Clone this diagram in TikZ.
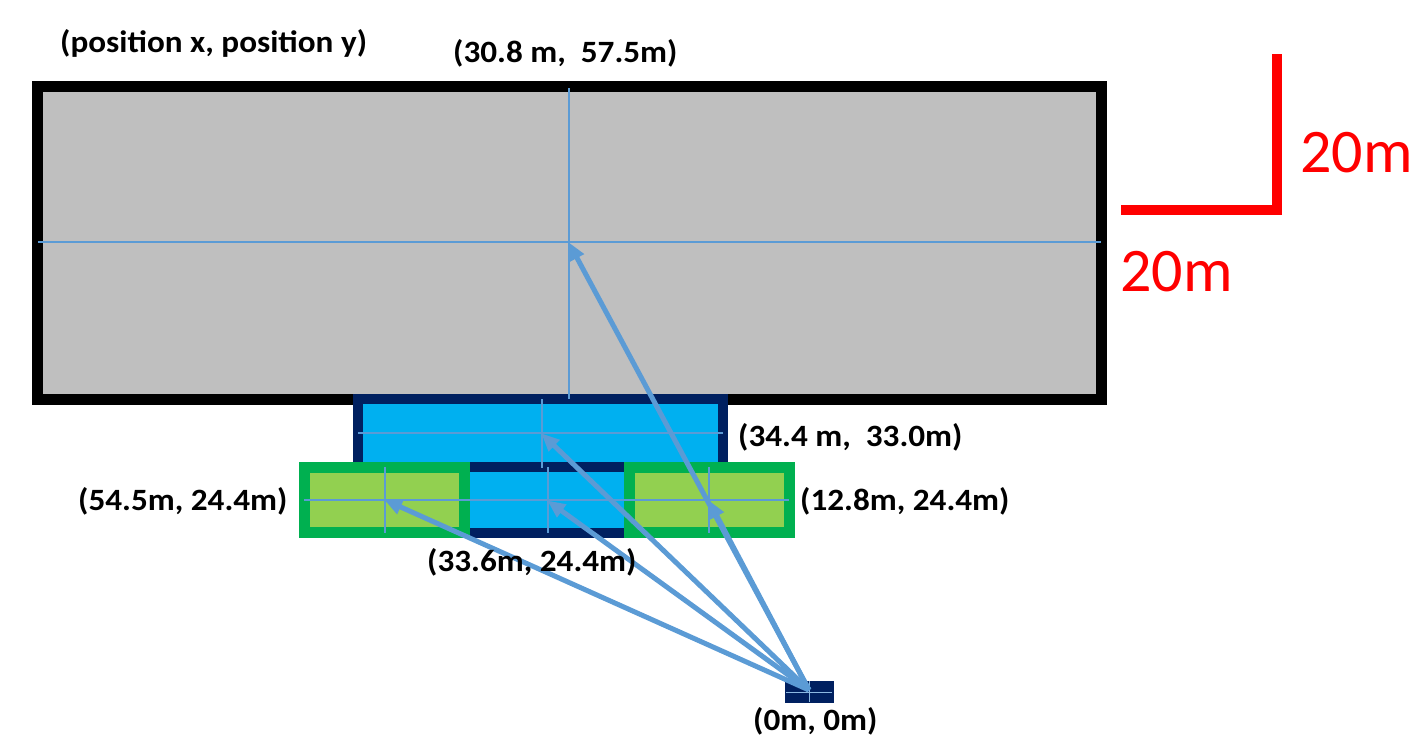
\documentclass[tikz,border=0pt]{standalone}
\usepackage{fontspec}
\setmainfont{Carlito}
\newfontfamily\lblfont{Carlito}[FakeStretch=1.07]
\usetikzlibrary{arrows.meta}
\definecolor{greyfill}{HTML}{BFBFBF}
\definecolor{cyanfill}{HTML}{00B0F0}
\definecolor{navy}{HTML}{002060}
\definecolor{greenb}{HTML}{00B050}
\definecolor{lgreen}{HTML}{92D050}
\definecolor{arrowblue}{HTML}{5B9BD5}
\definecolor{redc}{HTML}{FF0000}
\tikzset{
  lbl/.style={font=\lblfont\fontsize{31}{35}\selectfont\bfseries, inner sep=0pt, anchor=west},
  redlbl/.style={font=\fontsize{62}{68}\selectfont, text=redc, inner sep=0pt, anchor=west},
  thinline/.style={draw=arrowblue, line width=1.1pt},
  arr/.style={draw=arrowblue, line width=5pt, -{Triangle[length=18pt,width=15pt]}, shorten >=-1pt},
  building/.style={line width=11pt, line join=miter},
}
\begin{document}
\begin{tikzpicture}[x=1pt,y=-1pt]
\useasboundingbox (0,0) rectangle (1426,748);
% main grey area
\draw[building, draw=black, fill=greyfill] (37.5,86.5) rectangle (1101.5,399.5);
% upper blue
\draw[line width=10pt, draw=navy, fill=cyanfill] (358,399) rectangle (723,467);
% lower blue
\draw[line width=10pt, draw=navy, fill=cyanfill] (465,467) rectangle (629,533);
% green boxes
\draw[line width=11pt, draw=greenb, fill=lgreen] (304.5,467.5) rectangle (464.5,532.5);
\draw[line width=11pt, draw=greenb, fill=lgreen] (629.5,467.5) rectangle (789.5,532.5);
% source
\draw[fill=navy, draw=navy] (785,681) rectangle (833,702);
\draw[draw=arrowblue!70!white, line width=0.8pt] (786,692) -- (832,692) (809,681) -- (809,702);
% thin centre lines
\draw[thinline] (38,242) -- (1101,242) (569,88) -- (569,399);
\draw[thinline] (358,433) -- (723,433) (542,399) -- (542,468);
\draw[thinline] (304,500) -- (789,500) (385,467) -- (385,533) (548,467) -- (548,533) (709,467) -- (709,533);
% targets
\coordinate (src) at (809,690);
\coordinate (tgrey) at (569,243);
\coordinate (tup) at (542,434);
\coordinate (tmid) at (548,501);
\coordinate (tleft) at (385,500);
\coordinate (tright) at (709,501);
\draw[arr] (src) -- (tgrey);
\draw[arr] (src) -- (tup);
\draw[arr] (src) -- (tmid);
\draw[arr] (src) -- (tleft);
\draw[arr] (src) -- (tright);
% red scale
\coordinate (sa) at (1121,210);
\coordinate (sb) at (1277,210);
\coordinate (sc) at (1277,54);
\draw[draw=redc, line width=10pt] (sa) -- (sb) -- (sc);
\node[redlbl] (s1) at (1300,153) {20m};
\node[redlbl] (s2) at (1120,272) {20m};
% labels
\node[lbl] (l0) at (60,43) {(position x, position y)};
\node[lbl] (l1) at (453,53) {(30.8 m,\ \ 57.5m)};
\node[lbl] (l2) at (738,437) {(34.4 m,\ \ 33.0m)};
\node[lbl] (l3) at (78,501) {(54.5m, 24.4m)};
\node[lbl] (l4) at (800,501) {(12.8m, 24.4m)};
\node[lbl] (l5) at (427,562) {(33.6m, 24.4m)};
\node[lbl] (l6) at (753,721) {(0m, 0m)};
\end{tikzpicture}
\end{document}
